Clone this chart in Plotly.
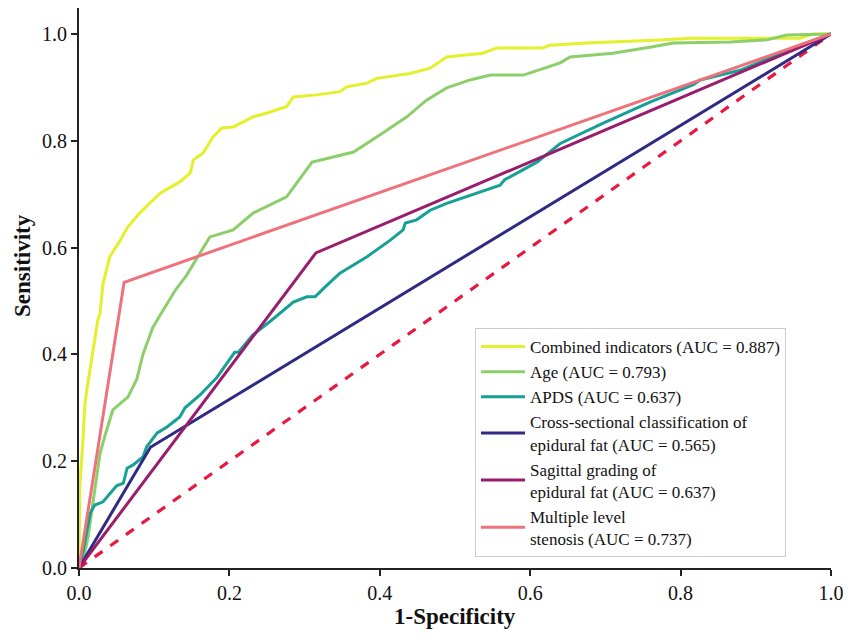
import plotly.graph_objects as go

# Combined indicators
comb_x = [0, 0, 0.001, 0.005, 0.008, 0.012, 0.017, 0.021, 0.025, 0.028, 0.032, 0.041, 0.055, 0.065,
          0.081, 0.094, 0.108, 0.134, 0.148, 0.152, 0.165, 0.178, 0.19, 0.205, 0.232, 0.25, 0.276,
          0.285, 0.316, 0.347, 0.356, 0.383, 0.396, 0.44, 0.467, 0.489, 0.537, 0.556, 0.617, 0.626,
          0.675, 0.773, 0.813, 0.959, 0.976, 1.0]
comb_y = [0, 0.1, 0.152, 0.234, 0.309, 0.348, 0.39, 0.427, 0.464, 0.477, 0.533, 0.583, 0.614, 0.639,
          0.665, 0.683, 0.702, 0.723, 0.74, 0.764, 0.777, 0.807, 0.824, 0.826, 0.845, 0.852, 0.864,
          0.882, 0.886, 0.892, 0.901, 0.908, 0.917, 0.926, 0.936, 0.957, 0.964, 0.974, 0.974, 0.979,
          0.983, 0.989, 0.992, 0.992, 1.0, 1.0]

# Age
age_x = [0, 0.008, 0.012, 0.02, 0.028, 0.035, 0.045, 0.065, 0.077, 0.085, 0.098, 0.108, 0.128, 0.143,
         0.174, 0.205, 0.232, 0.276, 0.31, 0.33, 0.365, 0.4, 0.436, 0.462, 0.489, 0.52, 0.547, 0.591,
         0.64, 0.653, 0.71, 0.763, 0.79, 0.866, 0.915, 0.941, 0.976, 1.0]
age_y = [0, 0.03, 0.058, 0.14, 0.215, 0.25, 0.296, 0.32, 0.354, 0.40, 0.45, 0.474, 0.52, 0.548,
         0.62, 0.633, 0.665, 0.695, 0.76, 0.767, 0.779, 0.811, 0.845, 0.876, 0.899, 0.914, 0.923, 0.923,
         0.946, 0.957, 0.964, 0.976, 0.983, 0.985, 0.989, 0.998, 1.0, 1.0]

# APDS
apds_x = [0, 0.005, 0.015, 0.021, 0.032, 0.05, 0.059, 0.064, 0.072, 0.085, 0.09, 0.104, 0.117, 0.134,
          0.141, 0.161, 0.183, 0.207, 0.212, 0.231, 0.256, 0.285, 0.303, 0.314, 0.327, 0.347, 0.383,
          0.414, 0.431, 0.434, 0.449, 0.467, 0.489, 0.56, 0.566, 0.609, 0.64, 0.70, 0.76, 0.817, 0.826,
          0.879, 0.959, 1.0]
apds_y = [0, 0.028, 0.103, 0.118, 0.124, 0.154, 0.159, 0.187, 0.193, 0.208, 0.227, 0.253, 0.264, 0.283,
          0.3, 0.324, 0.356, 0.404, 0.404, 0.436, 0.464, 0.498, 0.508, 0.508, 0.526, 0.552, 0.583,
          0.614, 0.633, 0.646, 0.652, 0.67, 0.683, 0.717, 0.727, 0.76, 0.795, 0.835, 0.873, 0.905, 0.914,
          0.932, 0.979, 1.0]

# Cross-sectional classification
cross_x = [0, 0.095, 1.0]
cross_y = [0, 0.226, 1.0]

# Sagittal grading
sag_x = [0, 0.315, 1.0]
sag_y = [0, 0.59, 1.0]

# Multiple level stenosis
mls_x = [0, 0.06, 1.0]
mls_y = [0, 0.535, 1.0]

ref_x = [0, 1]
ref_y = [0, 1]

tick_vals = [0, 0.2, 0.4, 0.6, 0.8, 1.0]
tick_text = ["0.0", "0.2", "0.4", "0.6", "0.8", "1.0"]

names = [
    "Combined indicators (AUC = 0.887)",
    "Age (AUC = 0.793)",
    "APDS (AUC = 0.637)",
    "Cross-sectional classification of<br>epidural fat (AUC = 0.565)",
    "Sagittal grading of<br>epidural fat (AUC = 0.637)",
    "Multiple level<br>stenosis (AUC = 0.737)",
]
colors = ["#e4f02c", "#8ccf6a", "#17a095", "#2f2a84", "#9a1c6c", "#ef727a"]
series = [(comb_x, comb_y), (age_x, age_y), (apds_x, apds_y),
          (cross_x, cross_y), (sag_x, sag_y), (mls_x, mls_y)]

fig = go.Figure()
fig.add_trace(go.Scatter(x=ref_x, y=ref_y, mode="lines", showlegend=False,
                         line=dict(color="#e8183f", width=3.2, dash="dash")))
for (xs, ys), n, c in zip(series, names, colors):
    fig.add_trace(go.Scatter(x=xs, y=ys, mode="lines", name=n,
                             line=dict(color=c, width=3)))

font_family = "Liberation Serif"
# page has an 8px body margin; plot area spans screen x 79..831, y 8..568
W, H = 843, 632
L, R, T, B = 71, 20, 0, 72
ph = H - T - B  # 560


def py2paper(py):
    return (568 - py) / ph


fig.update_layout(
    width=W, height=H,
    margin=dict(l=L, r=R, t=T, b=B),
    plot_bgcolor="white", paper_bgcolor="white",
    font=dict(family=font_family, size=20, color="#111"),
    xaxis=dict(range=[0, 1.0], tickvals=tick_vals, ticktext=tick_text,
               showline=True, linecolor="#222", linewidth=1.8, ticks="outside",
               ticklen=6, tickwidth=1.5, tickcolor="#222", showgrid=False, zeroline=False),
    yaxis=dict(range=[0, 1.0487], tickvals=tick_vals, ticktext=tick_text,
               showline=True, linecolor="#222", linewidth=1.8, ticks="outside",
               ticklen=6, tickwidth=1.5, tickcolor="#222", showgrid=False, zeroline=False),
    legend=dict(x=(475 - 79) / 752, y=py2paper(328), xanchor="left", yanchor="top",
                bgcolor="rgba(255,255,255,0.9)", bordercolor="#cccccc", borderwidth=1,
                itemwidth=44,
                font=dict(size=17, family=font_family, color="#111")),
    annotations=[
        dict(text="<b>Sensitivity</b>", textangle=-90, xref="paper", yref="paper",
             x=(22 - 79) / 752, y=py2paper(265), xanchor="center", yanchor="middle",
             showarrow=False, font=dict(size=23, family=font_family, color="#111")),
        dict(text="<b>1-Specificity</b>", xref="paper", yref="paper",
             x=(455 - 79) / 752, y=py2paper(616), xanchor="center", yanchor="middle",
             showarrow=False, font=dict(size=23, family=font_family, color="#111")),
    ],
)
fig.write_html("out.html")
